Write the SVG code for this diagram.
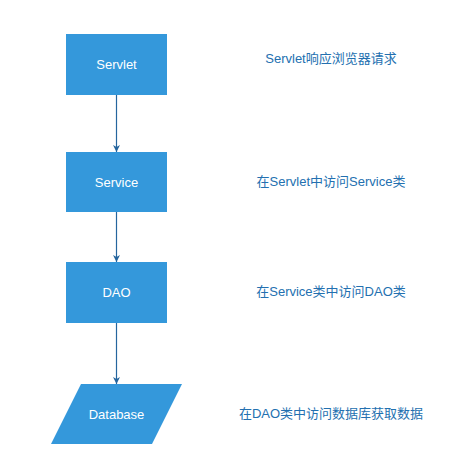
<svg xmlns="http://www.w3.org/2000/svg" width="470" height="462" viewBox="0 0 470 462">
<style>
.box{fill:#3498db;stroke:none}
.nt{font-family:"Liberation Sans","Noto Sans CJK SC",sans-serif;font-size:13px;fill:#ffffff;text-anchor:middle}
.lt{font-family:"Liberation Sans","Noto Sans CJK SC",sans-serif;font-size:13px;fill:#2370b0;text-anchor:middle}
.edge{stroke:#25659e;stroke-width:1.2;fill:none;marker-end:url(#ah)}
</style>
<defs>
<marker id="ah" viewBox="0 0 10 10" refX="10" refY="5" markerWidth="7" markerHeight="7" markerUnits="userSpaceOnUse" orient="auto">
<path d="M0,0 L10,5 L0,10 L3,5 z" fill="#25659e"/>
</marker>
</defs>
<rect width="470" height="462" fill="#ffffff"/>
<g id="connectors">
<line class="edge" x1="116.5" y1="95" x2="116.5" y2="152"/>
<line class="edge" x1="116.5" y1="212" x2="116.5" y2="262"/>
<line class="edge" x1="116.5" y1="323" x2="116.5" y2="384"/>
</g>
<g id="servlet">
<rect class="box" x="66" y="34" width="101" height="61"/>
<text class="nt" x="116.5" y="69">Servlet</text>
</g>
<g id="service">
<rect class="box" x="66" y="152" width="101" height="60"/>
<text class="nt" x="116.5" y="187">Service</text>
</g>
<g id="dao">
<rect class="box" x="66" y="262" width="101" height="61"/>
<text class="nt" x="116.5" y="297">DAO</text>
</g>
<g id="database">
<polygon class="box" points="81,384 182,384 152,444 51,444"/>
<text class="nt" x="116.5" y="419">Database</text>
</g>
<g id="labels">
<text class="lt" x="331" y="63">Servlet响应浏览器请求</text>
<text class="lt" x="331" y="186">在Servlet中访问Service类</text>
<text class="lt" x="331" y="296">在Service类中访问DAO类</text>
<text class="lt" x="331" y="418">在DAO类中访问数据库获取数据</text>
</g>
</svg>
